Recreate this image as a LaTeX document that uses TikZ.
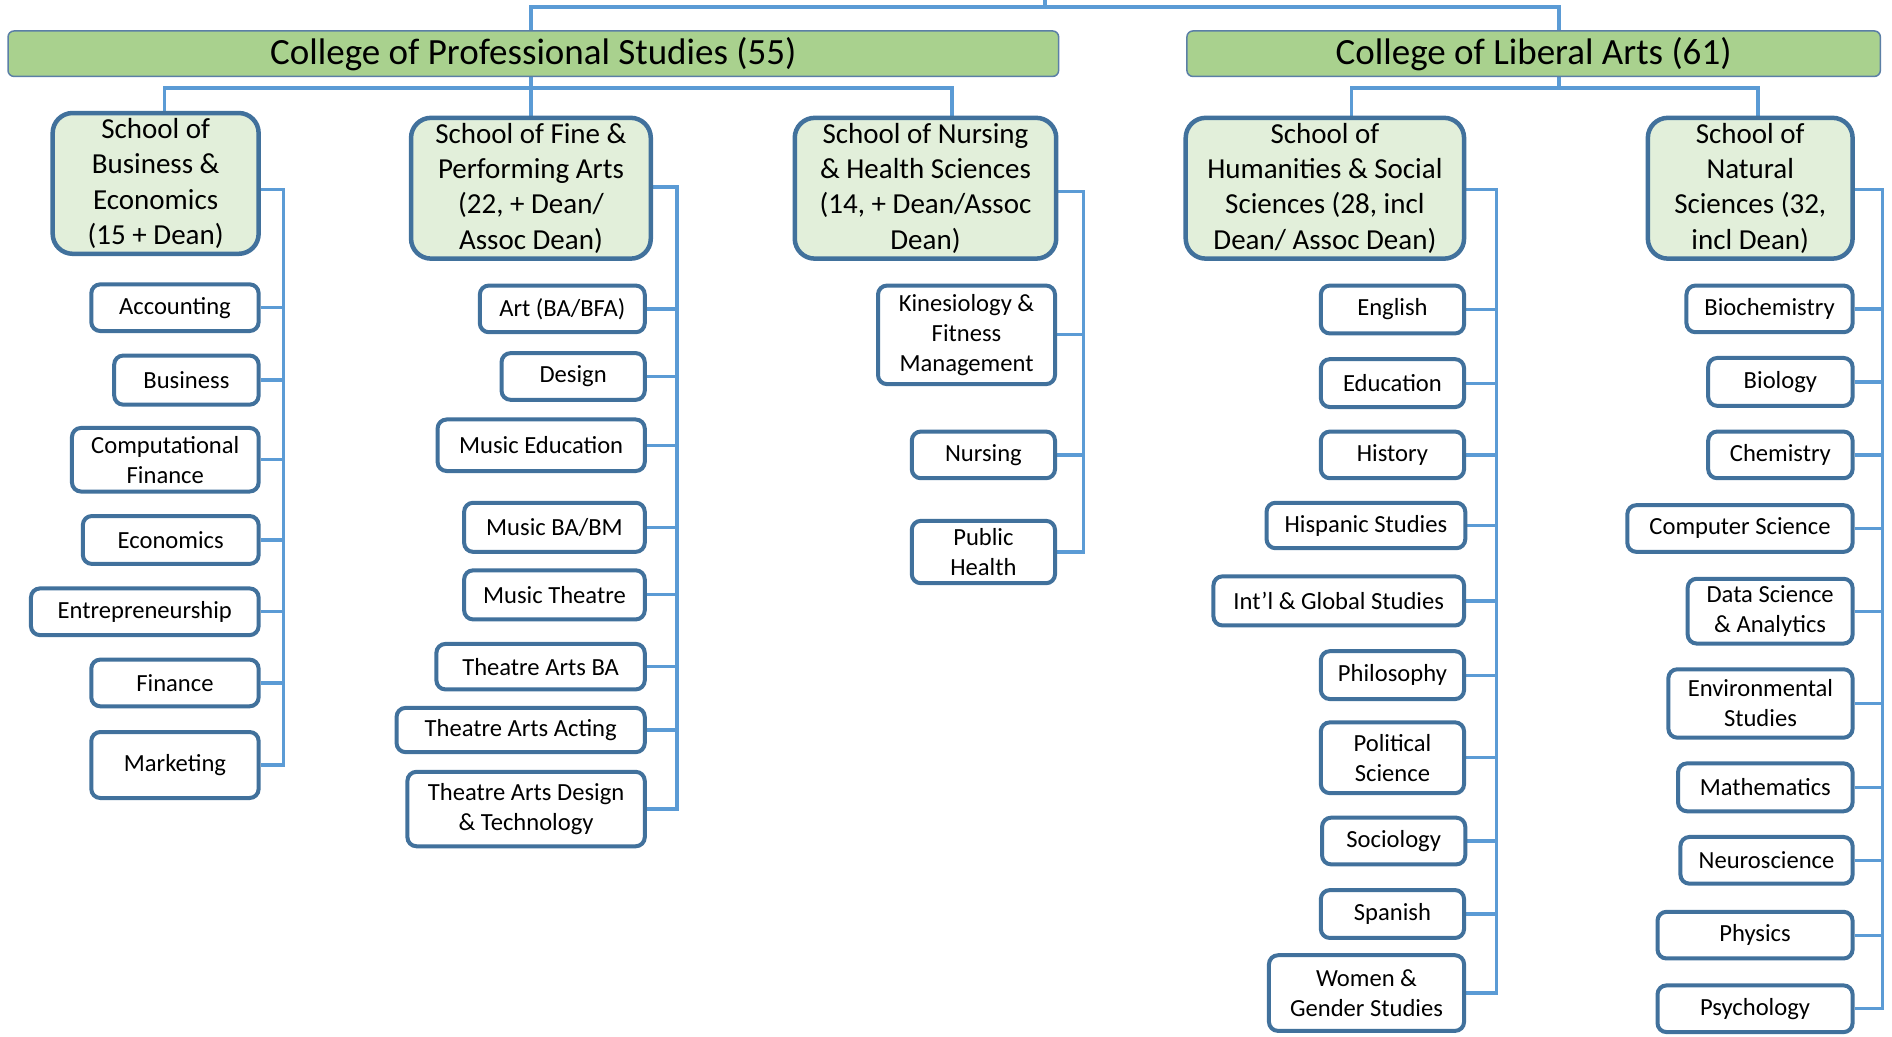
\documentclass[tikz,border=0pt]{standalone}
\usepackage{fontspec}
\setmainfont{Carlito}
\usetikzlibrary{backgrounds}
\definecolor{bord}{HTML}{41719C}
\definecolor{linkc}{HTML}{5B9BD5}
\definecolor{schfill}{HTML}{E2EFDA}
\definecolor{colfill}{HTML}{A9D18E}
\definecolor{colbord}{HTML}{5B7FA6}
\tikzset{
 colbox/.style={draw=colbord, line width=1.5pt, fill=colfill, rounded corners=6pt, inner sep=0pt, font=\fontsize{37}{45}\selectfont},
 schbox/.style={draw=bord, line width=4.5pt, fill=schfill, rounded corners=20pt, inner sep=0pt, align=center, font=\fontsize{29}{35.4}\selectfont},
 depbox/.style={draw=bord, line width=4pt, fill=white, rounded corners=9pt, inner sep=0pt, align=center, font=\fontsize{24.6}{30}\selectfont},
 link/.style={draw=linkc, line width=3.2pt},
}
\newcommand\mybox[7]{\node[#1, minimum width={(#4-#3)*1.2066pt-4pt}, minimum height={(#6-#5)*1.2066pt-4pt}] (#2) at ({(#3+#4)/2},{(#5+#6)/2}) {#7};}
\begin{document}
\begin{tikzpicture}[x=1.2066pt, y=-1.2066pt]
\useasboundingbox (0,0) rectangle (1568,859);
% colleges
\mybox{colbox}{cps}{5}{879}{24}{65}{College of Professional Studies (55)}
\mybox{colbox}{cla}{982}{1560}{24}{65}{College of Liberal Arts (61)}
% schools
\mybox{schbox}{sB}{42}{216}{92}{212}{School of\\Business \&\\Economics\\(15 + Dean)}
\mybox{schbox}{sF}{339}{541}{96}{216}{School of Fine \&\\Performing Arts\\(22, + Dean/\\Assoc Dean)}
\mybox{schbox}{sN}{657}{877}{96}{216}{School of Nursing\\\& Health Sciences\\(14, + Dean/Assoc\\Dean)}
\mybox{schbox}{sH}{981}{1215}{96}{216}{School of\\Humanities \& Social\\Sciences (28, incl\\Dean/ Assoc Dean)}
\mybox{schbox}{sS}{1364}{1537}{96}{216}{School of\\Natural\\Sciences (32,\\incl Dean)}
% business
\mybox{depbox}{acc}{74}{216}{234}{276}{Accounting}
\mybox{depbox}{bus}{93}{216}{293}{337}{Business}
\mybox{depbox}{cfin}{58}{216}{353}{409}{Computational\\Finance}
\mybox{depbox}{eco}{67}{216}{426}{469}{Economics}
\mybox{depbox}{ent}{24}{216}{486}{528}{Entrepreneurship}
\mybox{depbox}{fin}{74}{216}{545}{587}{Finance}
\mybox{depbox}{mkt}{74}{216}{605}{663}{Marketing}
% fine arts
\mybox{depbox}{art}{396}{536}{235}{277}{Art (BA/BFA)}
\mybox{depbox}{des}{414}{536}{291}{333}{Design}
\mybox{depbox}{mued}{361}{536}{346}{392}{Music Education}
\mybox{depbox}{muba}{383}{536}{415}{459}{Music BA/BM}
\mybox{depbox}{muth}{383}{536}{471}{515}{Music Theatre}
\mybox{depbox}{taba}{360}{536}{532}{573}{Theatre Arts BA}
\mybox{depbox}{taac}{327}{536}{585}{625}{Theatre Arts Acting}
\mybox{depbox}{tad}{336}{536}{638}{703}{Theatre Arts Design\\\& Technology}
% nursing
\mybox{depbox}{kin}{726}{876}{235}{320}{Kinesiology \&\\Fitness\\Management}
\mybox{depbox}{nur}{754}{876}{356}{398}{Nursing}
\mybox{depbox}{ph}{754}{876}{430}{485}{Public\\Health}
% humanities
\mybox{depbox}{eng}{1093}{1215}{235}{278}{English}
\mybox{depbox}{edu}{1093}{1215}{296}{339}{Education}
\mybox{depbox}{his}{1093}{1215}{356}{398}{History}
\mybox{depbox}{hsp}{1048}{1216}{415}{456}{Hispanic Studies}
\mybox{depbox}{igs}{1004}{1215}{476}{520}{Int’l \& Global Studies}
\mybox{depbox}{phi}{1093}{1215}{538}{581}{Philosophy}
\mybox{depbox}{pol}{1093}{1215}{597}{659}{Political\\Science}
\mybox{depbox}{soc}{1094}{1216}{676}{718}{Sociology}
\mybox{depbox}{spa}{1093}{1215}{736}{779}{Spanish}
\mybox{depbox}{wgs}{1050}{1215}{790}{856}{Women \&\\Gender Studies}
% natural sciences
\mybox{depbox}{bch}{1396}{1537}{235}{277}{Biochemistry}
\mybox{depbox}{bio}{1414}{1537}{295}{338}{Biology}
\mybox{depbox}{che}{1414}{1537}{356}{398}{Chemistry}
\mybox{depbox}{csc}{1347}{1537}{417}{459}{Computer Science}
\mybox{depbox}{dsa}{1397}{1537}{478}{535}{Data Science\\\& Analytics}
\mybox{depbox}{env}{1381}{1537}{553}{613}{Environmental\\Studies}
\mybox{depbox}{mat}{1389}{1537}{631}{674}{Mathematics}
\mybox{depbox}{neu}{1391}{1537}{692}{734}{Neuroscience}
\mybox{depbox}{phy}{1372}{1537}{754}{796}{Physics}
\mybox{depbox}{psy}{1372}{1537}{815}{857}{Psychology}
% connectors
\begin{scope}[on background layer]
 \fill[white] (0,0) rectangle (1568,859);
 \coordinate (topL) at (440,5.5);
 \coordinate (topR) at (1292,5.5);
 \coordinate (topM) at (866,5.5);
 \coordinate (topC) at (866,0);
 \draw[link, line width=4pt] (topL |- cps.north) -- (topL) -- (topR) -- (topR |- cla.north);
 \draw[link] (topC) -- (topM);
 \coordinate (hP) at (440,73);
 \coordinate (pB) at (136,73);
 \coordinate (pN) at (789,73);
 \draw[link] (hP |- cps.south) -- (hP) -- (hP |- sF.north);
 \draw[link] (pB |- sB.north) -- (pB) -- (pN) -- (pN |- sN.north);
 \coordinate (hL) at (1292,73);
 \coordinate (lH) at (1120,73);
 \coordinate (lS) at (1457,73);
 \draw[link] (hL |- cla.south) -- (hL);
 \draw[link] (lH |- sH.north) -- (lH) -- (lS) -- (lS |- sS.north);
 % buses
 \coordinate (busB) at (235,157);
 \draw[link] (sB.east |- busB) -- (busB) -- (busB |- mkt.east) -- (mkt.east);
 \foreach \n in {acc,bus,cfin,eco,ent,fin} \draw[link] (\n.east) -- (\n.east -| busB);
 \coordinate (busF) at (561,155);
 \draw[link] (sF.east |- busF) -- (busF) -- (busF |- tad.east) -- (tad.east);
 \foreach \n in {art,des,mued,muba,muth,taba,taac} \draw[link] (\n.east) -- (\n.east -| busF);
 \coordinate (busN) at (898,159);
 \draw[link] (sN.east |- busN) -- (busN) -- (busN |- ph.east) -- (ph.east);
 \foreach \n in {kin,nur} \draw[link] (\n.east) -- (\n.east -| busN);
 \coordinate (busH) at (1240,157);
 \draw[link] (sH.east |- busH) -- (busH) -- (busH |- wgs.east) -- (wgs.east);
 \foreach \n in {eng,edu,his,hsp,igs,phi,pol,soc,spa} \draw[link] (\n.east) -- (\n.east -| busH);
 \coordinate (busS) at (1560,157);
 \draw[link] (sS.east |- busS) -- (busS) -- (busS |- psy.east) -- (psy.east);
 \foreach \n in {bch,bio,che,csc,dsa,env,mat,neu,phy} \draw[link] (\n.east) -- (\n.east -| busS);
\end{scope}
\end{tikzpicture}
\end{document}
